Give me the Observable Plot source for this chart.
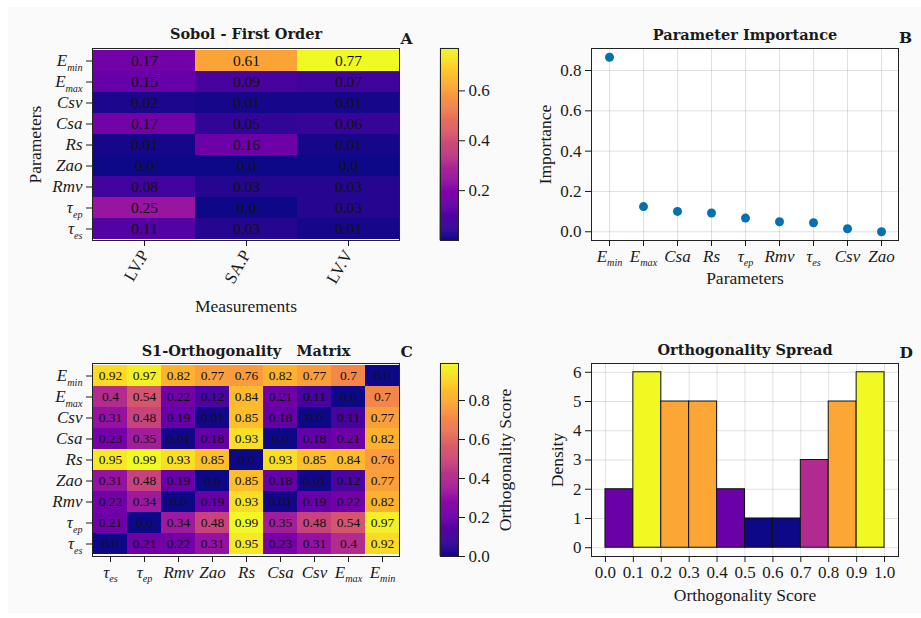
<!DOCTYPE html>
<html><head><meta charset="utf-8">
<script src="https://cdn.jsdelivr.net/npm/d3@7"></script>
<script src="https://cdn.jsdelivr.net/npm/@observablehq/plot@0.6"></script>
<style>
html,body{margin:0;padding:0;background:#fff;}
#fig{position:relative;width:921px;height:618px;overflow:hidden;}
#bg{position:absolute;left:8px;top:7px;width:913px;height:606px;background:#fafafa;}
#fig svg{position:absolute;left:0;top:0;font-family:"Liberation Serif" !important;}
</style></head><body><div id="fig"><div id="bg"></div></div>
<script>
const W = 921, H = 618;

// ---- Panel A: Sobol first order ----
const params = ["E_min","E_max","Csv","Csa","Rs","Zao","Rmv","tau_ep","tau_es"];
const measurements = ["LV.P","SA.P","LV.V"];
const sobolLVP = [0.17,0.15,0.02,0.17,0.01,0.0,0.08,0.25,0.11];
const sobolSAP = [0.61,0.09,0.01,0.05,0.16,0.0,0.03,0.0,0.03];
const sobolLVV = [0.77,0.07,0.01,0.06,0.01,0.0,0.03,0.03,0.01];
const sobolTicks = [0.2,0.4,0.6];

// ---- Panel B: parameter importance ----
const importanceParams = ["E_min","E_max","Csa","Rs","tau_ep","Rmv","tau_es","Csv","Zao"];
const importanceValues = [0.866,0.125,0.101,0.093,0.068,0.050,0.045,0.015,0.0];
const importanceTicks = [0,0.2,0.4,0.6,0.8];

// ---- Panel C: S1-orthogonality matrix (rows top->bottom, cols left->right) ----
const orthoCols = ["tau_es","tau_ep","Rmv","Zao","Rs","Csa","Csv","E_max","E_min"];
const orthoRowEmin  = [0.92,0.97,0.82,0.77,0.76,0.82,0.77,0.7,0.0];
const orthoRowEmax  = [0.4,0.54,0.22,0.12,0.84,0.21,0.11,0.0,0.7];
const orthoRowCsv   = [0.31,0.48,0.19,0.01,0.85,0.18,0.0,0.11,0.77];
const orthoRowCsa   = [0.23,0.35,0.01,0.18,0.93,0.0,0.18,0.21,0.82];
const orthoRowRs    = [0.95,0.99,0.93,0.85,0.0,0.93,0.85,0.84,0.76];
const orthoRowZao   = [0.31,0.48,0.19,0.0,0.85,0.18,0.01,0.12,0.77];
const orthoRowRmv   = [0.22,0.34,0.0,0.19,0.93,0.01,0.19,0.22,0.82];
const orthoRowTauEp = [0.21,0.0,0.34,0.48,0.99,0.35,0.48,0.54,0.97];
const orthoRowTauEs = [0.0,0.21,0.22,0.31,0.95,0.23,0.31,0.4,0.92];
const orthoTicks = [0,0.2,0.4,0.6,0.8];

// ---- Panel D: orthogonality spread histogram ----
const binEdges = [0,0.1,0.2,0.3,0.4,0.5,0.6,0.7,0.8,0.9,1.0];
const binCounts = [2,6,5,5,2,1,1,3,5,6];
const spreadXTicks = [0,0.1,0.2,0.3,0.4,0.5,0.6,0.7,0.8,0.9,1.0];
const spreadYTicks = [0,1,2,3,4,5,6];

// ---- helpers ----
const SERIF = "Liberation Serif";
const labelParts = {
  E_min:["E","min"], E_max:["E","max"], Csv:["Csv"], Csa:["Csa"], Rs:["Rs"],
  Zao:["Zao"], Rmv:["Rmv"], tau_ep:["τ","ep"], tau_es:["τ","es"]
};
const NS = "http://www.w3.org/2000/svg";
function richify(svg) {
  svg.querySelectorAll('g[aria-label$="tick label"] text').forEach(t => {
    const p = labelParts[t.textContent];
    if (!p) return;
    t.textContent = "";
    const a = document.createElementNS(NS, "tspan");
    a.setAttribute("font-style", "italic");
    a.textContent = p[0];
    t.appendChild(a);
    if (p[1]) {
      const b = document.createElementNS(NS, "tspan");
      b.setAttribute("font-style", "italic");
      b.setAttribute("font-size", "0.6em");
      b.setAttribute("dy", "0.45em");
      b.textContent = p[1];
      t.appendChild(b);
    }
  });
}
function frameMargins(f) {
  return {width: W, height: H, marginLeft: f.left, marginTop: f.top,
          marginRight: W - f.right, marginBottom: H - f.bottom};
}
const baseStyle = {background: "transparent", fontFamily: SERIF, fontSize: "17px", color: "#1a1a1a", overflow: "visible"};
const fmtCell = v => Math.round(v * 100) % 10 === 0 ? v.toFixed(1) : v.toFixed(2);
const titleOpts = {fontFamily: "DejaVu Serif", fontWeight: "bold", fontSize: 14.5, lineAnchor: "bottom", fill: "#1a1a1a"};
const letterOpts = {fontFamily: "DejaVu Serif", fontWeight: "bold", fontSize: 15.5, lineAnchor: "bottom", textAnchor: "start", frameAnchor: "top-right", fill: "#1a1a1a"};
const axisFont = {fontFamily: SERIF, fontSize: 17};
const labelOpts = {fontFamily: SERIF, fontSize: 17.5, fill: "#1a1a1a"};
const yLabelOpts = {...labelOpts, frameAnchor: "left", rotate: -90, textAnchor: "middle", lineAnchor: "middle"};
const xLabelOpts = {...labelOpts, frameAnchor: "bottom", lineAnchor: "bottom", textAnchor: "middle"};
const fig = document.getElementById("fig");
function add(p) { richify(p); fig.appendChild(p); }

function colorbar(frame, domain, ticks, label) {
  const n = 200, step = (domain[1] - domain[0]) / n;
  const stops = d3.range(n).map(i => ({y1: domain[0] + i * step, y2: domain[0] + (i + 1) * step, v: domain[0] + (i + 0.5) * step}));
  const marks = [
    Plot.rect(stops, {y1: "y1", y2: "y2", fill: "v", stroke: "v", strokeWidth: 0.6}),
    Plot.frame({stroke: "#222"}),
    Plot.axisY({anchor: "right", ticks, tickFormat: ".1f", tickSize: 6, tickPadding: 4, label: null, ...axisFont})
  ];
  if (label) marks.push(Plot.text([label], {text: d => d, ...labelOpts, frameAnchor: "right", dx: 47, rotate: -90, textAnchor: "middle", lineAnchor: "middle"}));
  return Plot.plot({
    ...frameMargins(frame), style: baseStyle,
    y: {domain},
    color: {type: "linear", scheme: "plasma", domain},
    marks
  });
}

// ---- Panel A ----
const sobolCols = [sobolLVP, sobolSAP, sobolLVV];
const dataA = params.flatMap((p, i) => measurements.map((m, j) => ({param: p, meas: m, value: sobolCols[j][i]})));
const frameA = {left: 92, top: 48, right: 399, bottom: 240};
add(Plot.plot({
  ...frameMargins(frameA), style: baseStyle,
  x: {domain: measurements, padding: 0},
  y: {domain: params, padding: 0},
  color: {type: "linear", scheme: "plasma", domain: [0, 0.77]},
  marks: [
    Plot.cell(dataA, {x: "meas", y: "param", fill: "value"}),
    Plot.text(dataA, {x: "meas", y: "param", text: d => fmtCell(d.value), fill: "#111", fontSize: 15.5, fontFamily: SERIF}),
    Plot.frame({stroke: "#222"}),
    Plot.axisX({tickSize: 6, tickRotate: -60, label: null, ...axisFont}),
    Plot.axisY({tickSize: 6, tickPadding: 4, label: null, ...axisFont}),
    Plot.text(["Sobol - First Order"], {text: d => d, frameAnchor: "top", dy: -9.5, ...titleOpts}),
    Plot.text(["A"], {text: d => d, dx: 1, dy: -4.5, ...letterOpts}),
    Plot.text(["Parameters"], {text: d => d, dx: -57, ...yLabelOpts}),
    Plot.text(["Measurements"], {text: d => d, dy: 71.5, ...xLabelOpts})
  ]
}));
add(colorbar({left: 440, top: 48, right: 458, bottom: 240}, [0, 0.77], sobolTicks, null));

// ---- Panel B ----
const dataB = importanceParams.map((p, i) => ({param: p, value: importanceValues[i]}));
const frameB = {left: 591, top: 48, right: 898, bottom: 240};
add(Plot.plot({
  ...frameMargins(frameB), style: baseStyle,
  x: {type: "point", domain: importanceParams, padding: 0.4},
  y: {domain: [-0.0433, 0.9093]},
  marks: [
    Plot.frame({fill: "white"}),
    Plot.gridX({stroke: "#000", strokeOpacity: 0.12}),
    Plot.gridY({ticks: importanceTicks, stroke: "#000", strokeOpacity: 0.12}),
    Plot.dot(dataB, {x: "param", y: "value", fill: "#0072b2", r: 4.5}),
    Plot.frame({stroke: "#222"}),
    Plot.axisX({tickSize: 6, label: null, ...axisFont}),
    Plot.axisY({ticks: importanceTicks, tickFormat: ".1f", tickSize: 6, tickPadding: 4, label: null, ...axisFont}),
    Plot.text(["Parameter Importance"], {text: d => d, frameAnchor: "top", dy: -9, ...titleOpts}),
    Plot.text(["B"], {text: d => d, dx: 0.5, dy: -5.5, ...letterOpts}),
    Plot.text(["Importance"], {text: d => d, dx: -46, ...yLabelOpts}),
    Plot.text(["Parameters"], {text: d => d, dy: 43, ...xLabelOpts})
  ]
}));

// ---- Panel C ----
const orthoRows = [orthoRowEmin, orthoRowEmax, orthoRowCsv, orthoRowCsa, orthoRowRs, orthoRowZao, orthoRowRmv, orthoRowTauEp, orthoRowTauEs];
const dataC = params.flatMap((p, i) => orthoCols.map((c, j) => ({row: p, col: c, value: orthoRows[i][j]})));
const frameC = {left: 92, top: 363, right: 399, bottom: 556};
add(Plot.plot({
  ...frameMargins(frameC), style: baseStyle,
  x: {domain: orthoCols, padding: 0},
  y: {domain: params, padding: 0},
  color: {type: "linear", scheme: "plasma", domain: [0, 0.99]},
  marks: [
    Plot.cell(dataC, {x: "col", y: "row", fill: "value"}),
    Plot.text(dataC, {x: "col", y: "row", text: d => fmtCell(d.value), fill: "#111", fontSize: 13.5, fontFamily: SERIF}),
    Plot.frame({stroke: "#222"}),
    Plot.axisX({tickSize: 6, label: null, ...axisFont}),
    Plot.axisY({tickSize: 6, tickPadding: 4, label: null, ...axisFont}),
    Plot.text(["S1-Orthogonality\u00a0\u00a0\u00a0Matrix"], {text: d => d, frameAnchor: "top", dy: -8, ...titleOpts}),
    Plot.text(["C"], {text: d => d, dx: 1, dy: -7, ...letterOpts})
  ]
}));
add(colorbar({left: 440, top: 363, right: 458, bottom: 556}, [0, 0.99], orthoTicks, "Orthogonality Score"));

// ---- Panel D ----
const bars = binCounts.map((c, i) => ({x0: binEdges[i], x1: binEdges[i + 1], count: c}));
const frameD = {left: 591, top: 363, right: 898, bottom: 556};
add(Plot.plot({
  ...frameMargins(frameD), style: baseStyle,
  x: {domain: [-0.05, 1.05]},
  y: {domain: [-0.3, 6.3]},
  color: {type: "linear", scheme: "plasma", domain: [1, 6]},
  marks: [
    Plot.frame({fill: "white"}),
    Plot.gridX({ticks: spreadXTicks, stroke: "#000", strokeOpacity: 0.12}),
    Plot.gridY({ticks: spreadYTicks, stroke: "#000", strokeOpacity: 0.12}),
    Plot.rect(bars, {x1: "x0", x2: "x1", y1: 0, y2: "count", fill: "count", stroke: "#111", strokeWidth: 1}),
    Plot.frame({stroke: "#222"}),
    Plot.axisX({ticks: spreadXTicks, tickFormat: ".1f", tickSize: 6, label: null, ...axisFont}),
    Plot.axisY({ticks: spreadYTicks, tickFormat: d => String(d), tickSize: 6, tickPadding: 4, label: null, ...axisFont}),
    Plot.text(["Orthogonality Spread"], {text: d => d, frameAnchor: "top", dy: -8.5, ...titleOpts}),
    Plot.text(["D"], {text: d => d, dx: 1, dy: -5.5, ...letterOpts}),
    Plot.text(["Density"], {text: d => d, dx: -34, ...yLabelOpts}),
    Plot.text(["Orthogonality Score"], {text: d => d, dy: 44.5, ...xLabelOpts})
  ]
}));
</script></body></html>
